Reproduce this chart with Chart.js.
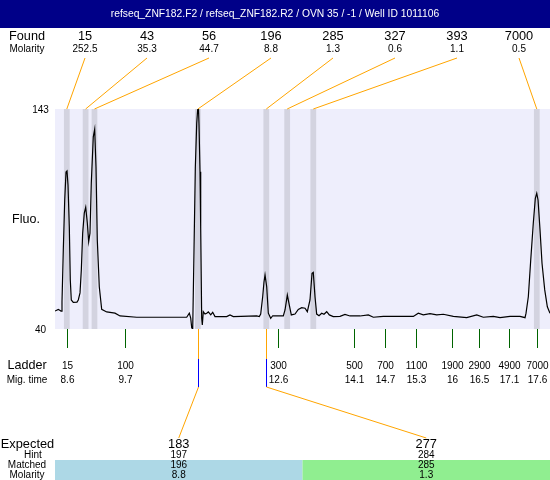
<!DOCTYPE html>
<html>
<head>
<meta charset="utf-8">
<script src="https://cdn.jsdelivr.net/npm/chart.js@4"></script>
<style>
html,body{margin:0;padding:0;background:#fff;}
#wrap{width:550px;height:480px;position:relative;}
</style>
</head>
<body>
<div id="wrap"><canvas id="c" width="550" height="480"></canvas></div>
<script>
// ---------- data ----------
const titleText = "refseq_ZNF182.F2 / refseq_ZNF182.R2 / OVN 35 / -1 / Well ID 1011106";
const foundSizes = ["15", "43", "56", "196", "285", "327", "393", "7000"];
const foundMolarity = ["252.5", "35.3", "44.7", "8.8", "1.3", "0.6", "1.1", "0.5"];
const peakTimes = [8.59, 8.95, 9.12, 11.10, 12.41, 12.81, 13.31, 17.59];
const ladderSizes = ["15", "100", "300", "500", "700", "1100", "1900", "2900", "4900", "7000"];
const ladderTimes = [8.6, 9.71, 12.63, 14.09, 14.68, 15.28, 15.975, 16.485, 17.06, 17.6];
const ladderTimeLabels = ["8.6", "9.7", "12.6", "14.1", "14.7", "15.3", "16", "16.5", "17.1", "17.6"];
const expectedSizes = ["183", "277"];
const hintSizes = ["197", "284"];
const matchedSizes = ["196", "285"];
const matchedMolarity = ["8.8", "1.3"];
const matchedPeakIndex = [3, 4];
const yTicks = [40, 143];

const migTime = [8.364, 8.427, 8.479, 8.498, 8.523, 8.550, 8.575, 8.594, 8.613, 8.638, 8.657, 8.676, 8.714, 8.785, 8.810, 8.843, 8.868, 8.894, 8.925, 8.952, 8.983, 9.009, 9.034, 9.059, 9.097, 9.124, 9.149, 9.174, 9.212, 9.258, 9.354, 9.513, 9.609, 9.929, 10.886, 10.936, 10.963, 10.982, 11.001, 11.026, 11.051, 11.078, 11.097, 11.112, 11.122, 11.141, 11.154, 11.173, 11.185, 11.204, 11.237, 11.269, 11.300, 11.346, 11.384, 11.428, 11.652, 11.715, 11.778, 12.226, 12.276, 12.303, 12.341, 12.366, 12.386, 12.418, 12.449, 12.495, 12.533, 12.610, 12.736, 12.769, 12.813, 12.851, 12.889, 12.960, 13.023, 13.088, 13.152, 13.196, 13.247, 13.286, 13.310, 13.343, 13.375, 13.420, 13.471, 13.515, 13.567, 13.617, 13.693, 13.822, 13.917, 14.013, 14.204, 14.364, 14.460, 14.651, 15.226, 15.321, 15.417, 15.545, 15.674, 15.800, 15.992, 16.248, 16.440, 16.566, 16.757, 16.886, 17.077, 17.269, 17.365, 17.384, 17.428, 17.474, 17.523, 17.562, 17.589, 17.614, 17.652, 17.690, 17.742, 17.792, 17.843];
const fluo = [48.4, 49.2, 48.4, 52.8, 77.0, 100.4, 113.5, 114.0, 107.4, 87.9, 62.9, 53.6, 52.5, 52.6, 53.6, 56.9, 67.6, 84.9, 94.3, 97.0, 89.6, 80.9, 84.9, 108.4, 130.0, 133.5, 116.0, 81.7, 59.8, 49.2, 48.0, 47.4, 46.1, 45.5, 45.5, 47.4, 45.1, 40.6, 40.0, 77.0, 115.4, 136.4, 143.0, 143.0, 135.5, 113.6, 87.3, 45.1, 41.9, 48.1, 47.0, 47.4, 48.0, 46.6, 47.8, 45.8, 45.8, 46.6, 45.8, 46.1, 45.8, 47.0, 55.1, 62.0, 65.3, 59.8, 47.4, 45.0, 46.2, 46.1, 46.1, 48.9, 55.9, 51.2, 46.6, 47.0, 49.2, 50.0, 49.7, 48.1, 53.6, 66.1, 66.5, 55.1, 47.0, 46.2, 47.4, 46.9, 48.1, 46.6, 45.8, 45.9, 46.8, 46.1, 46.1, 46.6, 45.5, 45.9, 45.9, 47.4, 46.6, 47.2, 46.6, 46.9, 45.9, 45.3, 46.6, 45.5, 45.9, 45.3, 45.9, 45.9, 45.3, 47.4, 55.1, 72.3, 89.5, 101.2, 103.5, 100.4, 86.3, 70.8, 58.3, 50.4, 47.4];

// ---------- styles ----------
const FONT = '"Liberation Sans", Arial, sans-serif';
const C_TITLE_BG = "#000088";
const C_PLOT_BG = "#EEEEFC";
const C_BAND = "#D3D3E0";
const C_ORANGE = "#FFA500";
const C_GREEN = "#006400";
const C_BLUE = "#0000FF";
const C_MATCH = ["#ADD8E6", "#90EE90"];

function txt(ctx, s, x, y, size, align, color) {
  ctx.font = size + "px " + FONT;
  ctx.textAlign = align || "center";
  ctx.textBaseline = "middle";
  ctx.fillStyle = color || "#000";
  ctx.fillText(s, x, y);
}

const decor = {
  id: "decor",
  beforeDraw(chart) {
    const ctx = chart.ctx, a = chart.chartArea, xs = chart.scales.x;
    ctx.save();
    ctx.fillStyle = "#fff";
    ctx.fillRect(0, 0, chart.width, chart.height);
    ctx.fillStyle = C_PLOT_BG;
    ctx.fillRect(a.left, a.top, a.right - a.left, a.bottom - a.top);
    ctx.fillStyle = C_BAND;
    peakTimes.forEach(t => {
      const x0 = xs.getPixelForValue(t - 0.055), x1 = xs.getPixelForValue(t + 0.055);
      ctx.fillRect(x0, a.top, x1 - x0, a.bottom - a.top);
    });
    ctx.restore();
  },
  afterDraw(chart) {
    const ctx = chart.ctx, a = chart.chartArea, xs = chart.scales.x, ys = chart.scales.y;
    ctx.save();
    // title bar
    ctx.fillStyle = C_TITLE_BG;
    ctx.fillRect(0, 0, chart.width, 28);
    txt(ctx, titleText, chart.width / 2, 14, 10.3, "center", "#fff");

    // found header
    txt(ctx, "Found", 27, 36, 12.7);
    txt(ctx, "Molarity", 27, 49, 10);
    ctx.lineWidth = 1;
    foundSizes.forEach((s, i) => {
      const lx = 85 + 62 * i;
      txt(ctx, s, lx, 36, 12.8);
      txt(ctx, foundMolarity[i], lx, 49, 10);
      ctx.strokeStyle = C_ORANGE;
      ctx.beginPath();
      ctx.moveTo(lx, 58);
      ctx.lineTo(xs.getPixelForValue(peakTimes[i]), a.top);
      ctx.stroke();
    });

    // y axis
    yTicks.forEach(v => txt(ctx, String(v), 40.5, ys.getPixelForValue(v) + 1, 10));
    txt(ctx, "Fluo.", 26, 220, 12.5);

    // ladder
    ctx.strokeStyle = C_GREEN;
    ladderTimes.forEach((t, i) => {
      const x = Math.round(xs.getPixelForValue(t)) + 0.5;
      ctx.beginPath();
      ctx.moveTo(x, a.bottom);
      ctx.lineTo(x, a.bottom + 19);
      ctx.stroke();
      txt(ctx, ladderSizes[i], x, 366, 10);
      txt(ctx, ladderTimeLabels[i], x, 380, 10);
    });
    txt(ctx, "Ladder", 27, 366, 12.6);
    txt(ctx, "Mig. time", 27, 380, 10);

    // expected / matched
    const half = (a.right - a.left) / 2;
    txt(ctx, "Expected", 27.5, 444, 12.8);
    txt(ctx, "Hint", 33, 455.5, 10);
    matchedPeakIndex.forEach((pi, i) => {
      const cx = a.left + half * i + half / 2;
      ctx.fillStyle = C_MATCH[i];
      ctx.fillRect(a.left + half * i, 460, half, 20);
      const px = Math.round(xs.getPixelForValue(peakTimes[pi])) + 0.5;
      ctx.strokeStyle = C_ORANGE;
      ctx.beginPath();
      ctx.moveTo(px, a.bottom);
      ctx.lineTo(px, 359);
      ctx.stroke();
      ctx.strokeStyle = C_BLUE;
      ctx.beginPath();
      ctx.moveTo(px, 359);
      ctx.lineTo(px, 387);
      ctx.stroke();
      ctx.strokeStyle = C_ORANGE;
      ctx.beginPath();
      ctx.moveTo(px, 387);
      ctx.lineTo(cx, 438);
      ctx.stroke();
      txt(ctx, expectedSizes[i], cx, 444, 12.8);
      txt(ctx, hintSizes[i], cx, 455.5, 10);
      txt(ctx, matchedSizes[i], cx, 465.5, 10);
      txt(ctx, matchedMolarity[i], cx, 475, 10);
    });
    txt(ctx, "Matched", 27, 465.5, 10);
    txt(ctx, "Molarity", 27, 475, 10);
    ctx.restore();
  }
};

new Chart(document.getElementById("c"), {
  type: "line",
  data: {
    datasets: [{
      data: migTime.map((t, i) => ({ x: t, y: fluo[i] })),
      borderColor: "#000",
      borderWidth: 1.2,
      pointRadius: 0,
      tension: 0,
      fill: false
    }]
  },
  options: {
    responsive: false,
    animation: false,
    devicePixelRatio: 1,
    layout: { padding: { left: 55, top: 109, right: 0, bottom: 151 } },
    plugins: { legend: { display: false }, tooltip: { enabled: false }, title: { display: false } },
    scales: {
      x: { type: "linear", min: 8.364, max: 17.843, display: false },
      y: { min: 40, max: 143, display: false }
    }
  },
  plugins: [decor]
});
</script>
</body>
</html>
